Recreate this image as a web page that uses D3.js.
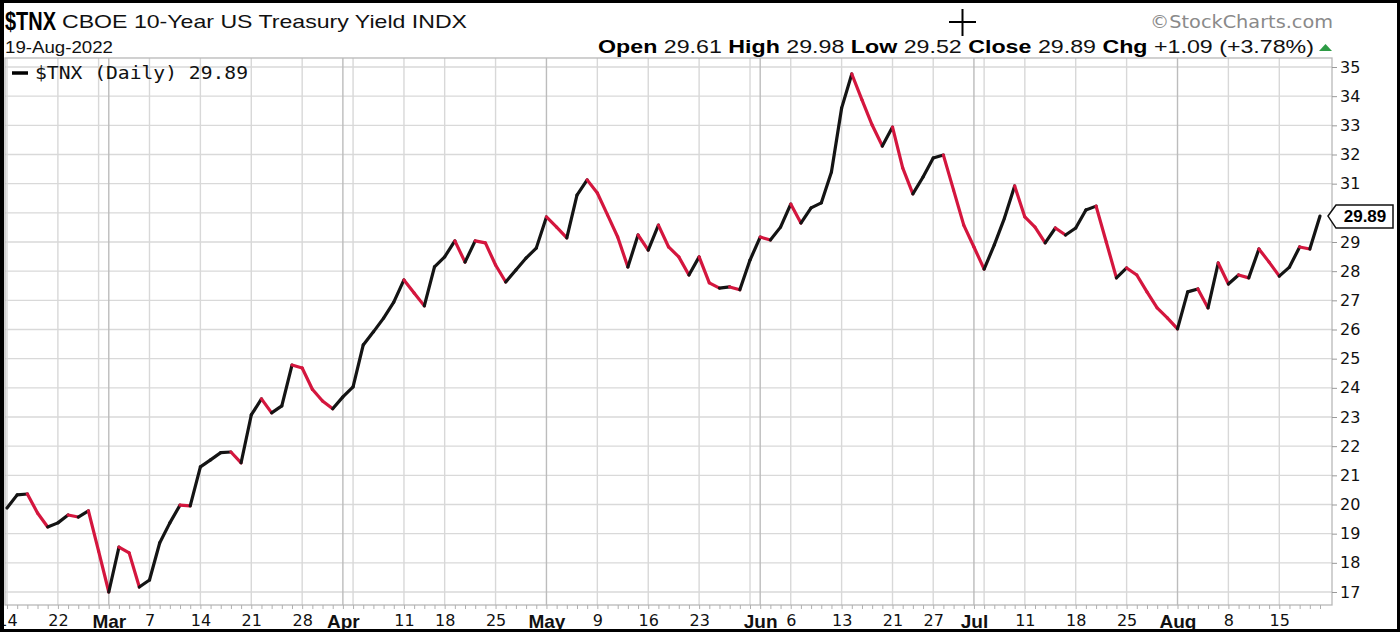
<!DOCTYPE html>
<html><head><meta charset="utf-8">
<script src="https://cdn.jsdelivr.net/npm/d3@7"></script>
<style>body{margin:0;background:#fff;} svg{display:block;}</style>
</head><body>
<svg id="c" width="1400" height="632"></svg>
<script>
// ---- data ----
const dates = [
 "02-14","02-15","02-16","02-17","02-18","02-22","02-23","02-24","02-25","02-28",
 "03-01","03-02","03-03","03-04","03-07","03-08","03-09","03-10","03-11","03-14","03-15","03-16","03-17","03-18","03-21","03-22","03-23","03-24","03-25","03-28","03-29","03-30","03-31",
 "04-01","04-04","04-05","04-06","04-07","04-08","04-11","04-12","04-13","04-14","04-18","04-19","04-20","04-21","04-22","04-25","04-26","04-27","04-28","04-29",
 "05-02","05-03","05-04","05-05","05-06","05-09","05-10","05-11","05-12","05-13","05-16","05-17","05-18","05-19","05-20","05-23","05-24","05-25","05-26","05-27","05-31",
 "06-01","06-02","06-03","06-06","06-07","06-08","06-09","06-10","06-13","06-14","06-15","06-16","06-17","06-21","06-22","06-23","06-24","06-27","06-28","06-29","06-30",
 "07-01","07-05","07-06","07-07","07-08","07-11","07-12","07-13","07-14","07-15","07-18","07-19","07-20","07-21","07-22","07-25","07-26","07-27","07-28","07-29",
 "08-01","08-02","08-03","08-04","08-05","08-08","08-09","08-10","08-11","08-12","08-15","08-16","08-17","08-18","08-19"
];
const closes = [
 19.88,20.33,20.36,19.71,19.23,19.37,19.64,19.57,19.78,18.40,
 17.00,18.54,18.34,17.17,17.41,18.68,19.37,19.98,19.95,21.29,21.53,21.78,21.80,21.43,23.07,23.62,23.14,23.38,24.78,24.68,23.95,23.55,23.28,
 23.69,24.03,25.47,25.92,26.39,26.94,27.70,27.25,26.81,28.15,28.49,29.04,28.31,29.04,28.97,28.21,27.63,28.04,28.45,28.79,
 29.86,29.51,29.14,30.61,31.13,30.68,29.93,29.17,28.14,29.24,28.72,29.58,28.83,28.49,27.87,28.49,27.60,27.42,27.46,27.36,28.38,
 29.17,29.07,29.51,30.30,29.65,30.17,30.34,31.40,33.59,34.76,33.87,33.01,32.29,32.94,31.54,30.65,31.23,31.88,31.98,30.78,29.58,
 28.83,28.07,28.90,29.82,30.92,29.86,29.51,28.97,29.48,29.24,29.48,30.10,30.23,29.00,27.77,28.11,27.87,27.29,26.74,26.40,
 26.02,27.29,27.39,26.74,28.28,27.56,27.87,27.77,28.76,28.31,27.83,28.14,28.83,28.76,29.89
];
const gridDates = ["02-14","02-22","02-28","03-01","03-07","03-14","03-21","03-28","04-01","04-04","04-11","04-18","04-25","05-02","05-09","05-16","05-23","05-31","06-01","06-06","06-13","06-21","06-27","07-01","07-05","07-11","07-18","07-25","08-01","08-08","08-15"];
const monthDates = ["03-01","04-01","05-02","06-01","07-01","08-01"];
const xTickDates  = ["02-14","02-22","03-01","03-07","03-14","03-21","03-28","04-01","04-11","04-18","04-25","05-02","05-09","05-16","05-23","06-01","06-06","06-13","06-21","06-27","07-01","07-11","07-18","07-25","08-01","08-08","08-15"];
const xTickLabels = ["14","22","Mar","7","14","21","28","Apr","11","18","25","May","9","16","23","Jun","6","13","21","27","Jul","11","18","25","Aug","8","15"];
const yTicks = [17,18,19,20,21,22,23,24,25,26,27,28,29,30,31,32,33,34,35];
const yTickLabels = ["17","18","19","20","21","22","23","24","25","26","27","28","29","","31","32","33","34","35"];
const symbol = "$TNX";
const title = "CBOE 10-Year US Treasury Yield INDX";
const dateText = "19-Aug-2022";
const headerLabels = ["Open","High","Low","Close","Chg"];
const headerValues = ["29.61","29.98","29.52","29.89","+1.09 (+3.78%)"];
const legendText = "$TNX (Daily) 29.89";
const lastValue = 29.89;
const credit = "\u00A9StockCharts.com";

// ---- drawing ----
const svg = d3.select("#c");
const P = {l:5, r:1332, t:58, b:605};
const x = d3.scalePoint().domain(dates).range([7, 1320]);
const y = d3.scaleLinear().domain([17, 35]).range([592, 67]);
const RED = "#d4163e", BLK = "#141414";

svg.append("rect").attr("width",1400).attr("height",632).attr("fill","#fff");

// horizontal grid
svg.append("g").selectAll("line").data(yTicks).join("line")
  .attr("x1",P.l).attr("x2",P.r).attr("y1",d=>y(d)).attr("y2",d=>y(d))
  .attr("stroke","#d9d9d9").attr("stroke-width",1.3);
// vertical grid
svg.append("g").selectAll("line").data(gridDates).join("line")
  .attr("x1",d=>x(d)).attr("x2",d=>x(d)).attr("y1",P.t).attr("y2",P.b)
  .attr("stroke",d=>monthDates.includes(d)?"#bcbcbc":"#d8d8d8")
  .attr("stroke-width",1.4);
// frame
svg.append("rect").attr("x",P.l).attr("y",P.t).attr("width",P.r-P.l).attr("height",P.b-P.t)
  .attr("fill","none").attr("stroke","#b8b8b8").attr("stroke-width",1.3);

// price line segments (black = up, red = down)
const segs = d3.range(1, closes.length).map(i => ({a:i-1, b:i, up: closes[i] >= closes[i-1]}));
const lineGen = d3.line().x(i=>x(dates[i])).y(i=>y(closes[i]));
svg.append("g").selectAll("path").data(segs).join("path")
  .attr("d",s=>lineGen([s.a,s.b]))
  .attr("fill","none").attr("stroke",s=>s.up?BLK:RED)
  .attr("stroke-width",3.2).attr("stroke-linecap","round").attr("stroke-linejoin","round");

// right y axis
const yAxis = svg.append("g").attr("transform",`translate(${P.r},0)`)
  .call(d3.axisRight(y).tickValues(yTicks).tickSize(5).tickPadding(3)
        .tickFormat((d,i)=>yTickLabels[i]));
yAxis.select(".domain").remove();
yAxis.selectAll("line").attr("stroke","#999");
yAxis.selectAll("text").attr("font-family","DejaVu Sans, sans-serif").attr("font-size",16).attr("fill","#111");

// last value tag
const ly = y(lastValue);
svg.append("path")
  .attr("d",`M${P.r-4},${ly} L${P.r+4},${ly-11} L${P.r+61},${ly-11} L${P.r+61},${ly+12} L${P.r+4},${ly+12} Z`)
  .attr("fill","#fff").attr("stroke","#111").attr("stroke-width",1.5);
svg.append("text").attr("x",P.r+33).attr("y",ly+6).attr("text-anchor","middle")
  .attr("font-family","Liberation Sans, Arial, sans-serif").attr("font-weight","bold").attr("font-size",17)
  .attr("fill","#000").text(lastValue.toFixed(2));

// x axis: daily minor ticks
const minor = svg.append("g").attr("transform",`translate(0,${P.b})`)
  .call(d3.axisBottom(x).tickValues(dates).tickSize(4).tickFormat(""));
minor.select(".domain").remove();
minor.selectAll("line").attr("stroke","#b0b0b0");

// x axis labels
svg.append("clipPath").attr("id","xclip").append("rect").attr("x",4).attr("y",600).attr("width",1330).attr("height",32);
const xl = svg.append("g").attr("clip-path","url(#xclip)").append("g").attr("transform",`translate(0,${P.b})`)
  .call(d3.axisBottom(x).tickValues(xTickDates).tickSize(0).tickPadding(10)
        .tickFormat(d=>xTickLabels[xTickDates.indexOf(d)]));
xl.select(".domain").remove();
xl.selectAll("text")
  .attr("fill","#111")
  .attr("font-family",d=>monthDates.includes(d)?"Liberation Sans, Arial, sans-serif":"DejaVu Sans, sans-serif")
  .attr("font-weight",d=>monthDates.includes(d)?"bold":"normal")
  .attr("font-size",d=>monthDates.includes(d)?19:16);

// header
svg.append("text").attr("x",5).attr("y",30).attr("font-family","Liberation Sans, Arial, sans-serif")
  .attr("font-weight","bold").attr("font-size",25).attr("textLength",51).attr("lengthAdjust","spacingAndGlyphs")
  .attr("fill","#000").text(symbol);
svg.append("text").attr("x",62).attr("y",28).attr("font-family","Liberation Sans, Arial, sans-serif")
  .attr("font-size",19).attr("textLength",405).attr("lengthAdjust","spacingAndGlyphs")
  .attr("fill","#111").text(title);
svg.append("text").attr("x",5).attr("y",53).attr("font-family","Liberation Sans, Arial, sans-serif")
  .attr("font-size",17).attr("textLength",108).attr("lengthAdjust","spacingAndGlyphs")
  .attr("fill","#111").text(dateText);

const hdr = svg.append("text").attr("x",598).attr("y",53)
  .attr("font-family","Liberation Sans, Arial, sans-serif").attr("font-size",18)
  .attr("textLength",716).attr("lengthAdjust","spacingAndGlyphs").attr("fill","#111");
headerLabels.forEach((lab,i)=>{
  hdr.append("tspan").attr("font-weight","bold").attr("fill","#000").text((i?"  ":"")+lab+" ");
  hdr.append("tspan").attr("font-weight","normal").text(headerValues[i]);
});
svg.append("path").attr("d","M1319,51 L1332,51 L1325.5,44 Z").attr("fill","#2e9b45");

svg.append("text").attr("x",1150).attr("y",28).attr("font-family","DejaVu Sans, sans-serif")
  .attr("font-size",18).attr("textLength",183).attr("lengthAdjust","spacingAndGlyphs")
  .attr("fill","#8a8a8a").text(credit);

// cursor crosshair
svg.append("path").attr("d","M949,22 H976 M962.5,9 V36").attr("stroke","#000").attr("stroke-width",2);

// legend
svg.append("line").attr("x1",12).attr("x2",28).attr("y1",73).attr("y2",73).attr("stroke","#000").attr("stroke-width",3.5);
svg.append("text").attr("x",35).attr("y",79).attr("font-family","DejaVu Sans Mono, monospace")
  .attr("font-size",17).attr("textLength",213).attr("lengthAdjust","spacingAndGlyphs")
  .attr("fill","#111").text(legendText);

// outer border
svg.append("rect").attr("x",1.5).attr("y",1.5).attr("width",1397).attr("height",629)
  .attr("fill","none").attr("stroke","#000").attr("stroke-width",3);
svg.append("line").attr("x1",3).attr("x2",3).attr("y1",0).attr("y2",632).attr("stroke","#000").attr("stroke-width",2);
</script>
</body></html>
